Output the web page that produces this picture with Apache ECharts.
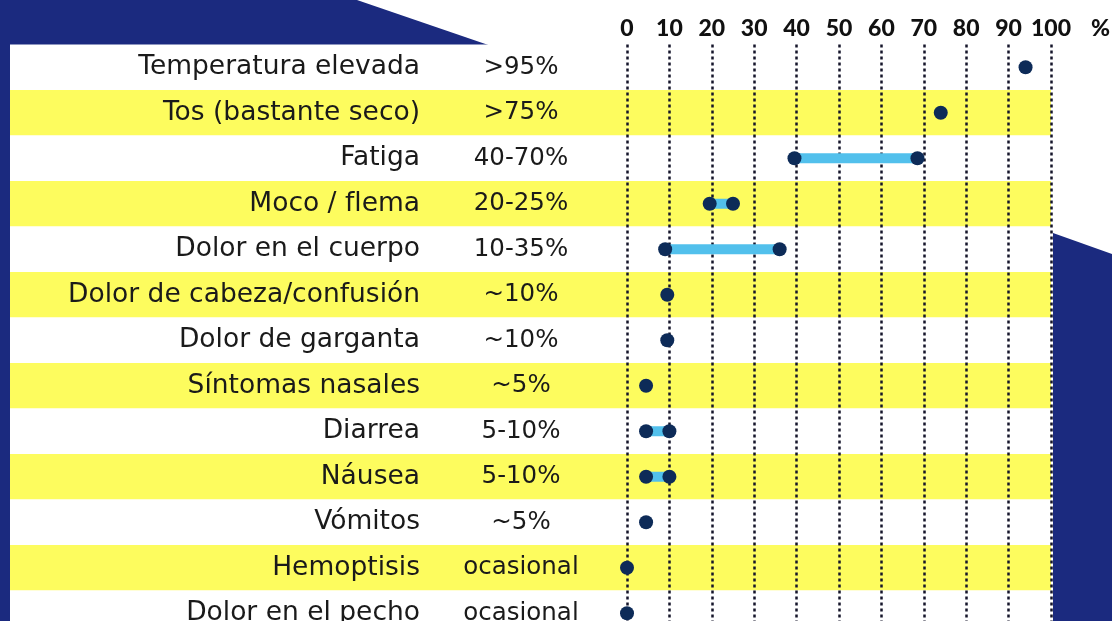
<!DOCTYPE html>
<html lang="es">
<head>
    <meta charset="UTF-8">
    <title>Síntomas</title>
    <style>
        html, body { margin: 0; padding: 0; background: #fff; }
    </style>
</head>
<body>
    <div id="main" style="width: 1112px; height: 621px;"></div>
    <script src="https://cdn.jsdelivr.net/npm/echarts@6/dist/echarts.min.js"></script>
    <script>
        // datos
        var symptoms = ['Temperatura elevada', 'Tos (bastante seco)', 'Fatiga', 'Moco / flema',
            'Dolor en el cuerpo', 'Dolor de cabeza/confusión', 'Dolor de garganta', 'Síntomas nasales',
            'Diarrea', 'Náusea', 'Vómitos', 'Hemoptisis', 'Dolor en el pecho'];
        var rangeLabels = ['>95%', '>75%', '40-70%', '20-25%', '10-35%', '~10%', '~10%', '~5%',
            '5-10%', '5-10%', '~5%', 'ocasional', 'ocasional'];
        var lowValues = [94, 74, 39.5, 19.5, 9, 9.5, 9.5, 4.5, 4.5, 4.5, 4.5, 0, 0];
        var highValues = [94, 74, 68.5, 25, 36, 9.5, 9.5, 4.5, 10, 10, 4.5, 0, 0];

        var navy = '#1b2a7f';
        var textFont = 'DejaVu Sans';

        var spans = highValues.map(function (h, i) { return h - lowValues[i]; });
        var dots = [];
        symptoms.forEach(function (s, i) {
            dots.push([lowValues[i], s]);
            if (highValues[i] > lowValues[i]) dots.push([highValues[i], s]);
        });

        var myChart = echarts.init(document.getElementById('main'));
        var option = {
            animation: false,
            backgroundColor: '#ffffff',
            graphic: [
                { type: 'polygon', z: -10, shape: { points: [[0, 0], [357, 0], [500, 49], [0, 49]] }, style: { fill: navy } },
                { type: 'rect', z: -10, shape: { x: 0, y: 0, width: 10, height: 621 }, style: { fill: navy } },
                { type: 'polygon', z: -10, shape: { points: [[1053, 233], [1112, 254], [1112, 621], [1053, 621]] }, style: { fill: navy } },
                {
                    type: 'text', left: 1091, top: 17,
                    style: { text: '%', font: '900 23px Lato', fill: '#111' }
                }
            ],
            grid: [
                { left: 10, right: 61, top: 44.5, height: 591.5, outerBoundsMode: 'none' },
                { left: 627, right: 61, top: 44.5, height: 591.5, outerBoundsMode: 'none' }
            ],
            xAxis: [
                { gridIndex: 0, type: 'value', show: false, min: 0, max: 100 },
                {
                    gridIndex: 1, type: 'value', position: 'top', min: 0, max: 100, interval: 10,
                    axisLine: { show: false },
                    axisTick: { show: false },
                    axisLabel: { color: '#111', fontFamily: 'Lato', fontWeight: 900, fontSize: 23, margin: 4 },
                    splitLine: { show: true, lineStyle: { color: '#15152a', width: 2.5, type: [3, 3] } }
                }
            ],
            yAxis: [
                {
                    gridIndex: 0, type: 'category', data: symptoms, inverse: true,
                    axisLine: { show: false }, axisTick: { show: false }, axisLabel: { show: false },
                    splitLine: { show: false },
                    splitArea: { show: true, areaStyle: { color: ['#ffffff', '#fdfc5e'] } }
                },
                {
                    gridIndex: 1, type: 'category', data: symptoms, inverse: true,
                    axisLine: { show: false }, axisTick: { show: false },
                    axisLabel: { color: '#1a1a1a', fontFamily: textFont, fontSize: 26.5, margin: 207 }
                },
                {
                    gridIndex: 1, type: 'category', data: rangeLabels, inverse: true, position: 'left',
                    axisLine: { show: false }, axisTick: { show: false },
                    axisLabel: { color: '#1a1a1a', fontFamily: textFont, fontSize: 24.5, margin: 106, align: 'center' }
                }
            ],
            series: [
                {
                    type: 'bar', xAxisIndex: 1, yAxisIndex: 1, stack: 'r', barWidth: 10,
                    itemStyle: { color: 'transparent' }, data: lowValues, silent: true
                },
                {
                    type: 'bar', xAxisIndex: 1, yAxisIndex: 1, stack: 'r', barWidth: 10,
                    itemStyle: { color: '#52c0ec' }, data: spans
                },
                {
                    type: 'scatter', xAxisIndex: 1, yAxisIndex: 1, symbolSize: 14, z: 5,
                    itemStyle: { color: '#0d2b58', opacity: 1 }, data: dots
                }
            ]
        };
        myChart.setOption(option);
    </script>
</body>
</html>
